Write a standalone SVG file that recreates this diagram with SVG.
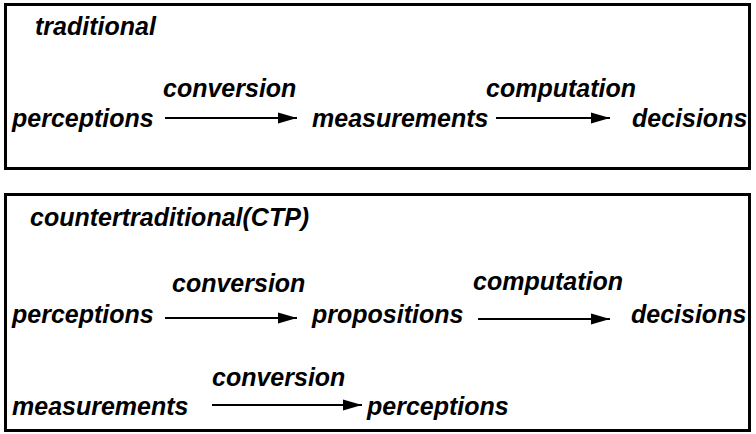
<svg xmlns="http://www.w3.org/2000/svg" width="756" height="434" viewBox="0 0 756 434">
  <style>
    .frame { fill: none; stroke: #000; stroke-width: 3; }
    .t { font-family: "Liberation Sans", Arial, Helvetica, sans-serif; font-weight: bold; font-style: italic; font-size: 25px; fill: #000; }
    .arrow { stroke: #000; stroke-width: 2; fill: none; marker-end: url(#head); }
  </style>
  <defs>
    <marker id="head" markerUnits="userSpaceOnUse" markerWidth="19" markerHeight="12" viewBox="0 0 19 12" refX="19" refY="6" orient="auto">
      <polygon points="0,0.5 19,6 0,11.5" fill="#000"/>
    </marker>
  </defs>
  <rect width="756" height="434" fill="#fff"/>

  <!-- traditional panel -->
  <g id="panel-traditional">
    <rect class="frame" x="5.5" y="4.5" width="744" height="164"/>
    <text class="t" x="35" y="35">traditional</text>
  </g>
  <g id="t-perceptions"><text class="t" x="12" y="127">perceptions</text></g>
  <g id="t-measurements"><text class="t" x="312" y="127">measurements</text></g>
  <g id="t-decisions"><text class="t" x="632" y="127">decisions</text></g>

  <!-- countertraditional panel -->
  <g id="panel-ctp">
    <rect class="frame" x="5.5" y="194.5" width="744" height="236"/>
    <text class="t" x="30" y="226">countertraditional(CTP)</text>
  </g>
  <g id="c-perceptions"><text class="t" x="12" y="323">perceptions</text></g>
  <g id="c-propositions"><text class="t" x="312" y="323">propositions</text></g>
  <g id="c-decisions"><text class="t" x="631" y="323">decisions</text></g>
  <g id="c-measurements"><text class="t" x="12" y="415">measurements</text></g>
  <g id="c-perceptions2"><text class="t" x="367" y="415">perceptions</text></g>

  <!-- connectors with their labels -->
  <g id="connectors">
    <line class="arrow" x1="165" y1="118" x2="297" y2="118"/>
    <text class="t" x="163" y="97">conversion</text>
    <line class="arrow" x1="496" y1="118" x2="610" y2="118"/>
    <text class="t" x="486" y="97">computation</text>

    <line class="arrow" x1="165" y1="318" x2="297" y2="318"/>
    <text class="t" x="172" y="292">conversion</text>
    <line class="arrow" x1="478" y1="319" x2="610" y2="319"/>
    <text class="t" x="473" y="290">computation</text>

    <line class="arrow" x1="212" y1="405" x2="362" y2="405"/>
    <text class="t" x="212" y="386">conversion</text>
  </g>
</svg>
